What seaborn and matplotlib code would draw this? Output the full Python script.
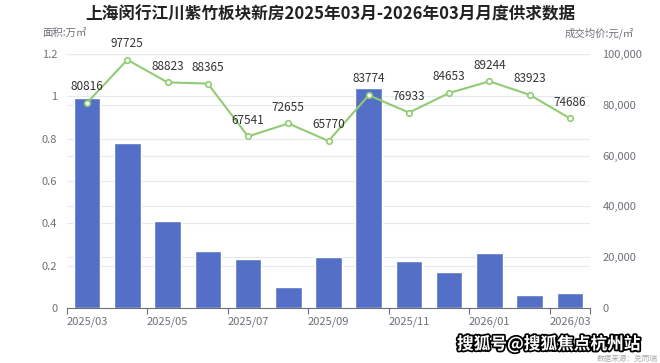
import matplotlib.pyplot as plt
import matplotlib.patheffects as pe
import pandas as pd
import seaborn as sns
from matplotlib.ticker import FuncFormatter, FixedLocator

months = ["2025/03", "2025/04", "2025/05", "2025/06", "2025/07", "2025/08", "2025/09",
          "2025/10", "2025/11", "2025/12", "2026/01", "2026/02", "2026/03"]
area = [0.99, 0.78, 0.41, 0.27, 0.23, 0.10, 0.24, 1.04, 0.22, 0.17, 0.26, 0.06, 0.07]
price = [80816, 97725, 88823, 88365, 67541, 72655, 65770, 83774, 76933, 84653, 89244, 83923, 74686]
price_ticks = [0, 20000, 40000, 60000, 80000, 100000]

df = pd.DataFrame({"idx": range(len(months)), "month": months, "area": area, "price": price})

sns.set_theme(style="white")
plt.rcParams["font.family"] = ["Noto Sans CJK SC", "DejaVu Sans"]

axis_gray = "#6e7079"
grid_gray = "#e6e9f0"

fig = plt.figure(figsize=(6.6, 3.63), dpi=100)
ax = fig.add_axes([67 / 660, 1 - 308 / 363, 523 / 660, 254 / 363])

# grid lines of both axes sit behind the bars
for v in [0.2, 0.4, 0.6, 0.8, 1.0, 1.2]:
    ax.axhline(v, color=grid_gray, linewidth=0.8, zorder=0)
for v in price_ticks[1:]:
    ax.axhline(v / 100000 * 1.2, color=grid_gray, linewidth=0.8, zorder=0)

sns.barplot(data=df, x="idx", y="area", native_scale=True, color="#5470c6",
            width=0.66, saturation=1, ax=ax, zorder=2)
ax.set_xlim(-0.5, len(months) - 0.5)
ax.set_ylim(0, 1.2)
ax.set_yticks([0, 0.2, 0.4, 0.6, 0.8, 1.0, 1.2])
ax.yaxis.set_major_formatter(FuncFormatter(lambda v, _: f"{v:g}"))

ax.set_xticks(range(0, len(months), 2))
ax.set_xticklabels(months[::2])
ax.xaxis.set_minor_locator(FixedLocator([i - 0.5 for i in range(0, len(months), 2)] + [len(months) - 0.5]))
ax.tick_params(axis="x", which="major", length=0, pad=6, labelsize=8, labelcolor=axis_gray)
ax.tick_params(axis="x", which="minor", length=4, color=axis_gray, width=0.8, bottom=True)
ax.tick_params(axis="y", length=0, labelsize=8, labelcolor=axis_gray, pad=7)
ax.set_xlabel("")
ax.set_ylabel("")
for s in ["top", "left", "right"]:
    ax.spines[s].set_visible(False)
ax.spines["bottom"].set_color(axis_gray)
ax.spines["bottom"].set_linewidth(0.8)
ax.spines["bottom"].set_zorder(4)

ax2 = ax.twinx()
ax2.set_ylim(0, 100000)
ax2.set_yticks(price_ticks)
ax2.yaxis.set_major_formatter(FuncFormatter(lambda v, _: f"{int(v):,}"))
ax2.tick_params(axis="y", length=0, labelsize=8, labelcolor=axis_gray, pad=9)
for s in ["top", "left", "right", "bottom"]:
    ax2.spines[s].set_visible(False)

sns.lineplot(data=df, x="idx", y="price", color="#91cc75", linewidth=1.5, marker="o",
             markersize=4, markerfacecolor="white", markeredgecolor="#91cc75",
             markeredgewidth=1.2, ax=ax2, zorder=3)
ax2.set_xlabel("")
ax2.set_ylabel("")
for i, p in zip(df["idx"], df["price"]):
    ax2.annotate(str(p), (i, p), xytext=(0, 7), textcoords="offset points",
                 ha="center", va="bottom", fontsize=8.5, color="#333333")

fig.text(0.5, 1 - 14 / 363, "上海闵行江川紫竹板块新房2025年03月-2026年03月月度供求数据",
         ha="center", va="center", fontsize=12, fontweight="bold", color="#222222")
fig.text(42 / 660, 1 - 33 / 363, "面积:万㎡", ha="left", va="center", fontsize=7.5, color=axis_gray)
fig.text(634 / 660, 1 - 33 / 363, "成交均价:元/㎡", ha="right", va="center", fontsize=7.5, color=axis_gray)

fig.text(658 / 660, 1 - 359 / 363, "数据来源：克而瑞", ha="right", va="center", fontsize=5.5, color="#aaaaaa")
fig.text(640 / 660, 1 - 344 / 363, "搜狐号@搜狐焦点杭州站", ha="right", va="center", fontsize=12,
         fontweight="bold", color="white",
         path_effects=[pe.withStroke(linewidth=2.5, foreground="black")])

fig.savefig("out.png", dpi=100)
plt.close(fig)
